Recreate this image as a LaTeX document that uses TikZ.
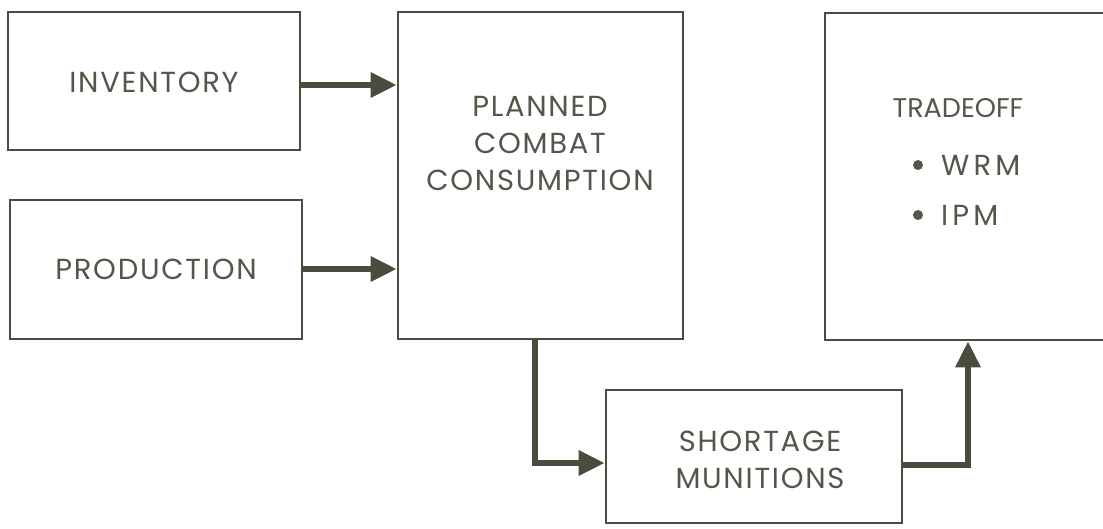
\documentclass[tikz,border=0pt]{standalone}
\usepackage{fontspec}
\setmainfont{Poppins}
\usetikzlibrary{arrows.meta}
\definecolor{ink}{HTML}{4B4C3E}
\definecolor{txt}{HTML}{55564A}
\newfontfamily\spA[LetterSpace=6]{Poppins}
\newfontfamily\spB[LetterSpace=14]{Poppins}
\newfontfamily\spC[LetterSpace=0]{Poppins}
\tikzset{
  box/.style={draw=ink, line width=2.6pt, fill=white, inner sep=0pt, anchor=center},
  lbl/.style={text=txt, font=\fontsize{29}{37}\selectfont, align=center, inner sep=0pt},
  flow/.style={draw=ink, line width=6pt, -{Triangle[length=26pt,width=24pt]}}
}
\begin{document}
\begin{tikzpicture}[x=1pt,y=-1pt]
\useasboundingbox[fill=white] (0,0) rectangle (1103,529);
\node[box, minimum width=292pt, minimum height=138pt] (inv) at (154,81) {};
\node[box, minimum width=292pt, minimum height=139pt] (prod) at (156,269.5) {};
\node[box, minimum width=285pt, minimum height=327pt] (plan) at (540.5,175.5) {};
\node[box, minimum width=290pt, minimum height=327pt] (trade) at (970,176.5) {};
\node[box, minimum width=296pt, minimum height=133pt] (short) at (754,456.5) {};

\node[lbl, font=\fontsize{29}{37}\spA] (tinv) at (154,82) {INVENTORY};
\node[lbl, font=\fontsize{29}{37}\spA] (tprod) at (156,269) {PRODUCTION};
\node[lbl, font=\fontsize{29}{37}\spA] (tplan) at (540,143) {PLANNED\\COMBAT\\CONSUMPTION};
\node[lbl, font=\fontsize{29}{37}\spA] (tshort) at (760,460) {SHORTAGE\\MUNITIONS};
\node[lbl, font=\fontsize{27}{37}\spC] (ttrade) at (958,108) {TRADEOFF};
\node[lbl, font=\fontsize{29}{37}\spB, anchor=west] (twrm) at (941,165) {WRM};
\node[lbl, font=\fontsize{29}{37}\spB, anchor=west] (tipm) at (941,215) {IPM};
\fill[txt] (918,165) circle (5pt);
\fill[txt] (918,215) circle (5pt);

\coordinate (a1) at (300,85);
\coordinate (a2) at (302,269);
\draw[flow] (a1) -- (a1 -| plan.west);
\draw[flow] (a2) -- (a2 -| plan.west);
\coordinate (d1) at (535,463);
\draw[flow] (plan.south -| d1) -- (d1) -- (d1 -| short.west);
\coordinate (d2) at (968,465);
\draw[flow] (d2 -| short.east) -- (d2) -- (d2 |- trade.south);
\end{tikzpicture}
\end{document}
